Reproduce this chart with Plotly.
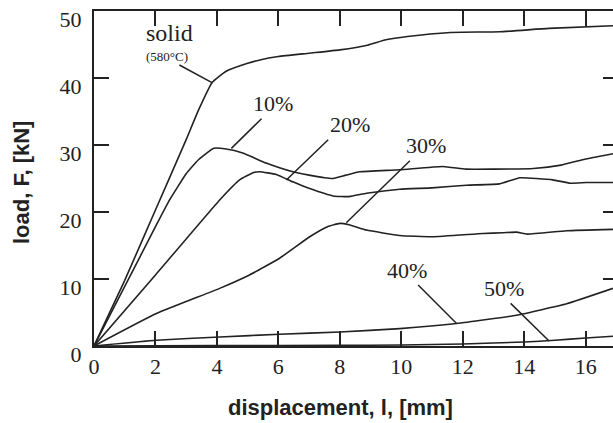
import plotly.graph_objects as go

# ---------------- data ----------------
solid_x = [0, 1.0, 2.0, 3.0, 3.4, 3.84, 4.3, 5.0, 5.4, 6.0, 7.0, 8.0, 8.9, 9.5, 10.2, 11.6, 13.2, 14.8, 16.89]
solid_y = [0, 9.8, 20.3, 30.8, 35.2, 39.3, 41.0, 42.2, 42.7, 43.2, 43.7, 44.2, 44.9, 45.7, 46.2, 46.8, 46.9, 47.4, 47.8]

p10_x = [0, 1.0, 2.0, 2.46, 3.0, 3.4, 3.9, 4.3, 4.84, 5.6, 6.47, 7.0, 7.5, 7.78, 8.2, 8.65, 9.95, 11.35, 12.1, 13.0, 14.3, 15.2, 15.9, 16.89]
p10_y = [0, 8.9, 17.8, 21.8, 25.7, 27.8, 29.5, 29.4, 28.8, 27.3, 26.0, 25.5, 25.1, 25.0, 25.5, 26.0, 26.3, 26.8, 26.4, 26.4, 26.5, 27.0, 27.8, 28.7]

p20_x = [0, 2.0, 4.09, 4.74, 5.2, 5.39, 5.93, 6.47, 7.02, 7.78, 8.3, 8.87, 9.95, 11.0, 12.12, 13.2, 13.86, 14.93, 15.5, 16.03, 16.89]
p20_y = [0, 10.6, 21.8, 24.8, 25.9, 26.0, 25.6, 24.5, 23.5, 22.4, 22.3, 22.8, 23.4, 23.6, 24.0, 24.2, 25.1, 24.8, 24.3, 24.4, 24.4]

p30_x = [0, 2.03, 4.09, 5.06, 6.04, 7.02, 7.6, 8.0, 8.3, 8.87, 9.95, 11.0, 12.66, 13.3, 13.75, 14.1, 15.38, 16.89]
p30_y = [0, 4.84, 8.6, 10.6, 13.1, 16.3, 17.8, 18.3, 18.1, 17.3, 16.5, 16.3, 16.8, 16.9, 17.0, 16.7, 17.2, 17.4]

p40_x = [0, 2.03, 4.09, 6.04, 8.0, 9.95, 11.8, 13.75, 15.38, 16.89]
p40_y = [0, 0.85, 1.35, 1.75, 2.1, 2.6, 3.35, 4.6, 6.3, 8.6]

p50_x = [0, 4, 8, 10, 12, 14, 15, 16, 16.89]
p50_y = [0, 0.05, 0.1, 0.15, 0.3, 0.6, 0.85, 1.2, 1.45]

x_ticks = [0, 2, 4, 6, 8, 10, 12, 14, 16]
y_ticks = [0, 10, 20, 30, 40, 50]

# curve labels: (text, text_x, text_y, tail_x, tail_y, tip_x, tip_y, size)
labels = [
    ("solid", 2.45, 46.74, None, None, None, None, 24),
    ("(580°C)", 2.38, 43.2, 2.73, 42.06, 3.84, 39.3, 13),
    ("10%", 5.81, 36.2, 5.50, 34.14, 4.47, 29.5, 22),
    ("20%", 8.32, 33.0, 7.67, 31.0, 6.26, 24.77, 22),
    ("30%", 10.82, 30.0, 10.33, 27.86, 8.21, 18.39, 22),
    ("40%", 10.2, 11.3, 10.5, 9.33, 11.8, 3.35, 22),
    ("50%", 13.34, 8.58, 13.51, 6.58, 14.81, 0.75, 22),
]

INK = "#222222"
SERIF = "Liberation Serif, Times New Roman, serif"
SANS = "Liberation Sans, Arial, sans-serif"

W, H = 613, 423
ML, MR, MT, MB = 94, 0, 11, 77
pw, ph = W - ML - MR, H - MT - MB

fig = go.Figure()
for xs, ys in [(solid_x, solid_y), (p10_x, p10_y), (p20_x, p20_y),
               (p30_x, p30_y), (p40_x, p40_y), (p50_x, p50_y)]:
    fig.add_trace(go.Scatter(x=xs, y=ys, mode="lines",
                             line=dict(color=INK, width=1.6, shape="spline", smoothing=0.4),
                             showlegend=False, hoverinfo="skip"))
# empty trace so that the right-hand tick axis is instantiated
fig.add_trace(go.Scatter(x=[], y=[], yaxis="y2", mode="lines", showlegend=False, hoverinfo="skip"))

annotations = []
for text, tx, ty, ax, ay, hx, hy, size in labels:
    annotations.append(dict(x=tx, y=ty, xref="x", yref="y", text=text, showarrow=False,
                            xanchor="center", yanchor="middle",
                            font=dict(family=SERIF, size=size, color=INK)))
    if ax is not None:
        annotations.append(dict(x=hx, y=hy, ax=ax, ay=ay, xref="x", yref="y",
                                axref="x", ayref="y", text="", showarrow=True,
                                arrowhead=0, arrowwidth=1.5, arrowcolor=INK, standoff=0))

# axis titles placed by pixel centre, converted to paper coordinates
for text, px, py, ang in [("<b>displacement, l, [mm]</b>", 340, 408, 0),
                          ("<b>load, F, [kN]</b>", 21, 183, -90)]:
    annotations.append(dict(x=(px - ML) / pw, y=(H - MB - py) / ph, xref="paper", yref="paper",
                            text=text, showarrow=False, textangle=ang,
                            xanchor="center", yanchor="middle",
                            font=dict(family=SANS, size=22, color=INK)))

fig.update_layout(
    width=W, height=H,
    margin=dict(l=ML, r=MR, t=MT, b=MB, pad=0, autoexpand=False),
    paper_bgcolor="white", plot_bgcolor="white",
    showlegend=False,
    annotations=annotations,
    xaxis=dict(range=[0, 16.89], tickmode="array", tickvals=x_ticks, ticktext=[str(v) for v in x_ticks],
               ticks="inside", ticklen=15, tickwidth=2, tickcolor=INK,
               showline=True, linewidth=2, linecolor=INK, mirror="ticks",
               showgrid=False, zeroline=False,
               tickfont=dict(family=SERIF, size=22, color=INK)),
    yaxis=dict(range=[0, 50], tickmode="array", tickvals=y_ticks, ticktext=[str(v) for v in y_ticks],
               ticks="inside", ticklen=15, tickwidth=1.5, tickcolor=INK,
               showline=True, linewidth=2, linecolor=INK, mirror=False,
               showgrid=False, zeroline=False, ticklabelstandoff=6, ticklabelshift=8,
               ticklabeloverflow="allow",
               tickfont=dict(family=SERIF, size=22, color=INK)),
    yaxis2=dict(overlaying="y", side="right", range=[0, 50], tickvals=[10, 20, 30, 40],
                ticks="inside", ticklen=10, tickwidth=1.5, tickcolor=INK,
                showticklabels=False, showline=False, showgrid=False, zeroline=False),
)

fig.write_html("out.html", config={"displayModeBar": False},
               post_script="document.body.style.margin='0';document.body.style.overflow='hidden';")
